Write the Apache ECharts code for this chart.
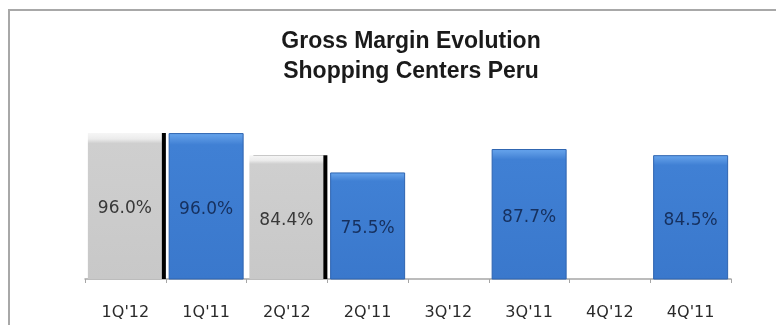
<!DOCTYPE html>
<html>
<head>
<meta charset="utf-8">
<script src="https://cdn.jsdelivr.net/npm/echarts@6/dist/echarts.min.js"></script>
<style>
  html, body { margin: 0; padding: 0; background: #ffffff; }
  #chart { width: 776px; height: 325px; }
</style>
</head>
<body>
<div id="chart"></div>
<script>
// Quarter labels along the x axis
var categories = ["1Q'12", "1Q'11", "2Q'12", "2Q'11", "3Q'12", "3Q'11", "4Q'12", "4Q'11"];
// Gross margin (%) for 2012 quarters (grey bars)
var margin2012 = [96.0, null, 84.4, null, null, null, null, null];
// Gross margin (%) for 2011 quarters (blue bars)
var margin2011 = [null, 96.0, null, 75.5, null, 87.7, null, 84.5];

var titleLines = ['Gross Margin Evolution', 'Shopping Centers Peru'];

function pct(p) { return p.value == null ? '' : p.value.toFixed(1) + '%'; }

var greyFill = new echarts.graphic.LinearGradient(0, 0, 0, 1, [
  { offset: 0, color: '#f6f6f6' },
  { offset: 0.04, color: '#ececec' },
  { offset: 0.07, color: '#cfcfcf' },
  { offset: 1, color: '#c8c8c8' }
]);
var blueFill = new echarts.graphic.LinearGradient(0, 0, 0, 1, [
  { offset: 0, color: '#68a6ee' },
  { offset: 0.04, color: '#5593e0' },
  { offset: 0.08, color: '#4080d4' },
  { offset: 1, color: '#3a78cc' }
]);

var chart = echarts.init(document.getElementById('chart'), null, { renderer: 'canvas' });
chart.setOption({
  animation: false,
  backgroundColor: '#ffffff',
  title: {
    text: titleLines.join('\n'),
    left: 406,
    textAlign: 'center',
    top: 22,
    textStyle: {
      fontFamily: 'Liberation Sans',
      fontWeight: 'bold',
      fontSize: 23,
      lineHeight: 30,
      color: '#1a1a1a'
    }
  },
  graphic: [{
    type: 'rect',
    shape: { x: 9, y: 10, width: 900, height: 500 },
    style: { fill: 'none', stroke: '#a8a8a8', lineWidth: 2 },
    silent: true
  }],
  grid: { left: 85, right: 45, top: 87, bottom: 46 },
  xAxis: {
    type: 'category',
    data: categories,
    axisLine: { lineStyle: { color: '#a6a6a6', width: 1.5 } },
    axisTick: { show: true, length: 4, lineStyle: { color: '#a6a6a6' } },
    axisLabel: {
      margin: 26,
      fontFamily: 'DejaVu Sans',
      fontSize: 16,
      color: '#2a2a2a'
    }
  },
  yAxis: {
    type: 'value',
    min: 20,
    max: 120,
    show: false,
    splitLine: { show: false }
  },
  series: [
    {
      name: '2012',
      type: 'bar',
      data: margin2012,
      barWidth: 74,
      barGap: '-100%',
      z: 2,
      itemStyle: {
        color: greyFill,
        borderWidth: 0,
        shadowColor: '#000000',
        shadowOffsetX: 4,
        shadowOffsetY: 0,
        shadowBlur: 0
      },
      label: {
        show: true,
        position: 'inside',
        offset: [0, 3],
        formatter: pct,
        fontFamily: 'DejaVu Sans',
        fontSize: 17,
        color: '#383838'
      }
    },
    {
      name: '2011',
      type: 'bar',
      data: margin2011,
      barWidth: 75,
      z: 3,
      itemStyle: {
        color: blueFill,
        borderColor: '#2e64b0',
        borderWidth: 1
      },
      label: {
        show: true,
        position: 'inside',
        offset: [0, 3],
        formatter: pct,
        fontFamily: 'DejaVu Sans',
        fontSize: 17,
        color: '#16305e'
      }
    }
  ]
});
</script>
</body>
</html>
